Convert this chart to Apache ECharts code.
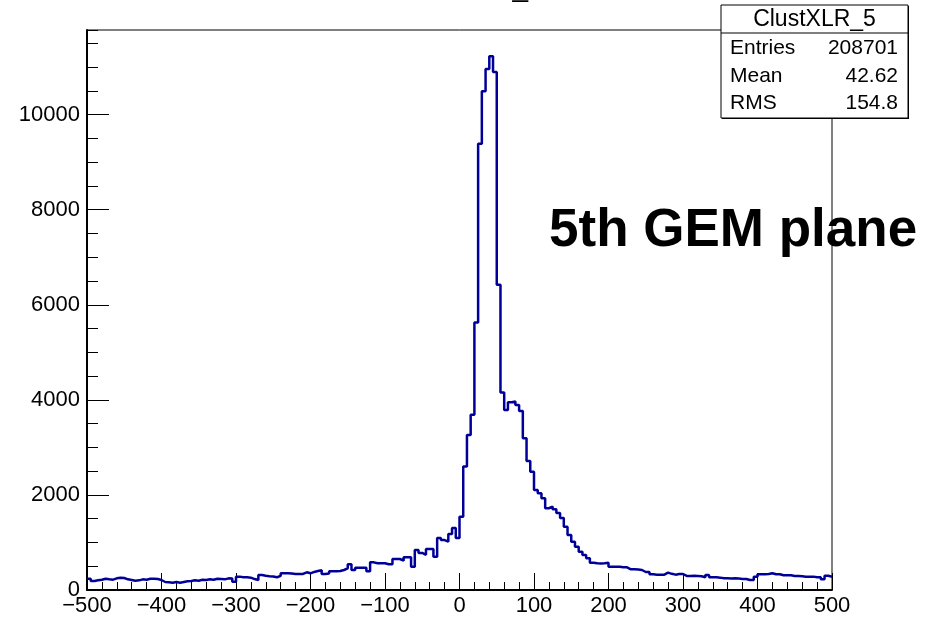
<!DOCTYPE html>
<html><head><meta charset="utf-8">
<script src="https://cdn.jsdelivr.net/npm/echarts@6/dist/echarts.min.js"></script>
<style>html,body{margin:0;padding:0;background:#fff}#c{width:931px;height:617px}</style>
</head><body><div id="c"></div>
<script>
// Histogram binning
const binLow = -500;
const binHigh = 500;
const binWidth = 5;
// Bin contents (200 bins of width 5, from -500 to 500)
const counts = [
  238,189,203,217,238,224,217,245,259,252,
  224,210,196,203,224,217,238,238,231,210,
  168,161,154,168,154,168,182,189,203,196,
  217,210,224,217,238,231,224,245,240,175,
  281,267,267,260,230,210,316,300,290,285,
  267,300,351,351,345,337,337,337,372,351,
  380,400,414,337,345,393,393,400,421,456,
  540,421,470,470,470,393,582,561,561,561,
  540,540,652,652,617,687,687,491,842,780,
  740,863,863,700,1094,1050,1017,1179,1305,1094,
  1543,2596,3263,3684,5627,9389,10490,10960,11226,10898,
  6420,4153,3789,3950,3964,3894,3768,3193,2715,2490,
  2105,2035,1930,1720,1755,1700,1620,1515,1333,1158,
  1017,912,807,737,667,575,561,560,561,575,
  491,491,491,477,477,435,435,430,421,379,
  379,330,323,323,323,365,340,323,337,337,
  295,295,300,295,290,267,316,267,267,260,
  246,246,240,246,240,232,232,210,210,281,
  330,330,337,351,330,330,309,309,309,295,
  295,290,281,281,281,267,267,224,300,280
];
const yMax = 11780;
const yMajorStep = 2000;
const yMinorStep = 500;
const xMajorStep = 100;
const histName = 'ClustXLR_5';
const statsLabels = ['Entries', 'Mean', 'RMS'];
const statsValues = ['208701', '42.62', '154.8'];
const annotation = '5th GEM plane';

const points = counts.map((v, i) => [binLow + i * binWidth, v]);
points.push([binHigh, counts[counts.length - 1]]);

const FONT = 'Liberation Sans, Arial, Helvetica, sans-serif';
const chart = echarts.init(document.getElementById('c'), null, {renderer: 'canvas'});
const statsTop = 5, statsLeft = 721, statsW = 187, statsH = 113;
const rowY = [48, 76, 103];

chart.setOption({
  animation: false,
  backgroundColor: '#fff',
  grid: {left: 87, right: 99, top: 30, bottom: 27, show: true, borderColor: '#000', borderWidth: 1, backgroundColor: 'transparent'},
  xAxis: {
    type: 'value', min: binLow, max: binHigh, interval: xMajorStep,
    axisLine: {show: true, onZero: false, lineStyle: {color: '#000', width: 2}},
    axisTick: {show: true, inside: true, length: 17, lineStyle: {color: '#000', width: 1}},
    minorTick: {show: true, splitNumber: 5, length: 8, lineStyle: {color: '#000', width: 1}},
    splitLine: {show: false},
    axisLabel: {color: '#000', fontFamily: FONT, fontSize: 22, margin: 5,
      formatter: v => (v < 0 ? '\u2212' + Math.abs(v) : String(v))}
  },
  yAxis: [{
    type: 'value', min: 0, max: yMax, interval: yMajorStep,
    axisLine: {show: true, onZero: false, lineStyle: {color: '#000', width: 2}},
    axisTick: {show: true, inside: true, length: 22, lineStyle: {color: '#000', width: 1}},
    splitLine: {show: false},
    axisLabel: {color: '#000', fontFamily: FONT, fontSize: 22, margin: 7, showMaxLabel: false,
      formatter: v => String(v)}
  }, {
    type: 'value', min: 0, max: yMax, interval: yMinorStep, position: 'left',
    axisLine: {show: false, onZero: false},
    axisTick: {show: true, inside: true, length: 11, lineStyle: {color: '#000', width: 1}},
    splitLine: {show: false},
    axisLabel: {show: false}
  }],
  series: [{
    type: 'line', step: 'end', data: points, symbol: 'none', yAxisIndex: 0,
    lineStyle: {color: '#000099', width: 2.5}, z: 5
  }],
  graphic: [
    {type: 'text', z: 10, style: {text: histName, x: 469, y: 2, align: 'center', verticalAlign: 'bottom', fill: '#000', font: '28px ' + FONT}},
    {type: 'text', z: 10, style: {text: annotation, x: 549, y: 231, align: 'left', verticalAlign: 'middle', fill: '#000', font: 'bold 53px ' + FONT}},
    {type: 'rect', z: 20, shape: {x: statsLeft + 1, y: statsTop + 1, width: statsW, height: statsH}, style: {fill: '#000'}},
    {type: 'rect', z: 21, shape: {x: statsLeft, y: statsTop, width: statsW, height: statsH}, style: {fill: '#fff', stroke: '#000', lineWidth: 1}},
    {type: 'line', z: 22, shape: {x1: statsLeft, y1: 33, x2: statsLeft + statsW, y2: 33}, style: {stroke: '#000', lineWidth: 1}},
    {type: 'text', z: 22, style: {text: histName, x: statsLeft + statsW / 2, y: 20, align: 'center', verticalAlign: 'middle', fill: '#000', font: '23px ' + FONT}},
    ...statsLabels.map((t, i) => ({type: 'text', z: 22, style: {text: t, x: 730, y: rowY[i], align: 'left', verticalAlign: 'middle', fill: '#000', font: '21px ' + FONT}})),
    ...statsValues.map((t, i) => ({type: 'text', z: 22, style: {text: t, x: 898, y: rowY[i], align: 'right', verticalAlign: 'middle', fill: '#000', font: '21px ' + FONT}}))
  ]
});
</script>
</body></html>
